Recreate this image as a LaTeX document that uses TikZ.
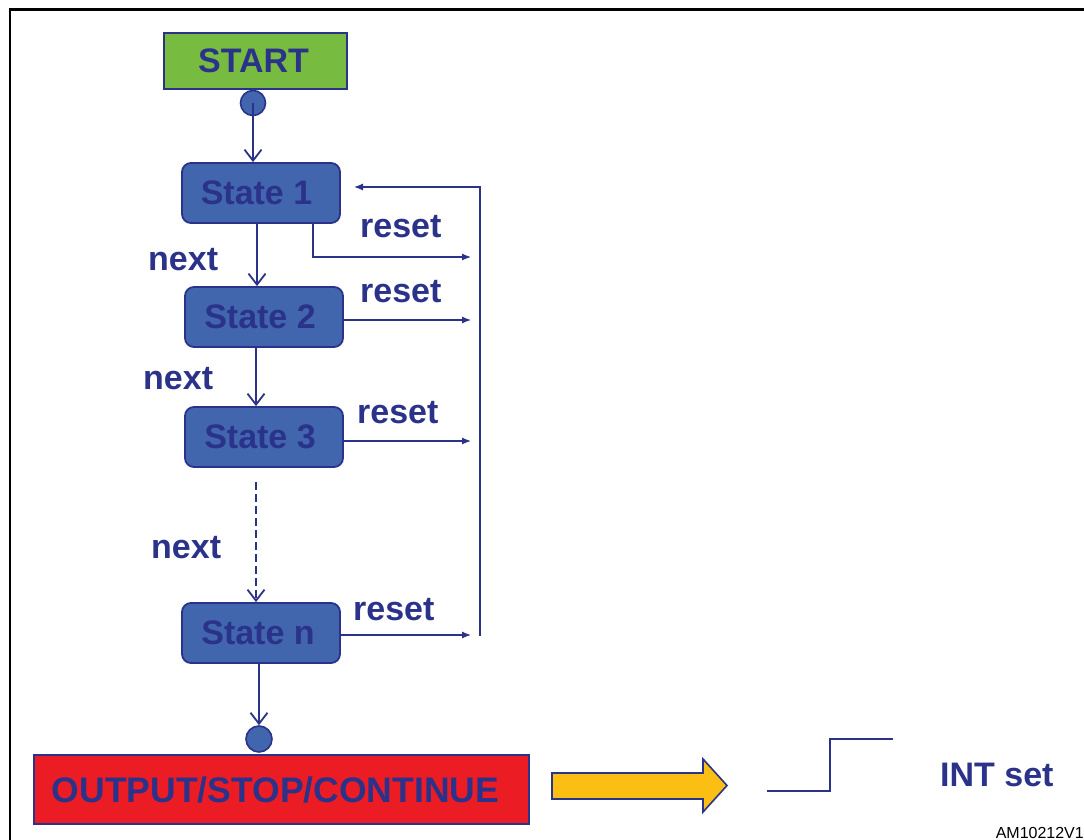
\documentclass[tikz,border=0pt]{standalone}
\usepackage{fontspec}
\setmainfont{Liberation Sans}
\usetikzlibrary{arrows.meta,calc}
\definecolor{dblue}{RGB}{43,50,138}
\definecolor{sblue}{RGB}{65,102,174}
\definecolor{sgreen}{RGB}{119,188,65}
\definecolor{sred}{RGB}{236,28,36}
\definecolor{syellow}{RGB}{251,191,20}
\tikzset{
  big/.style={font=\fontsize{34}{40}\selectfont\bfseries, text=dblue},
  statebox/.style={big, draw=dblue, line width=1.8pt, fill=sblue, rounded corners=9pt,
    minimum width=158pt, minimum height=60pt, inner sep=0pt},
  dotnode/.style={circle, draw=dblue, line width=1.6pt, fill=sblue, inner sep=0pt},
  nextarrow/.style={draw=dblue, line width=2.2pt, -{Straight Barb[length=11pt,width=17pt,line width=1.8pt]}},
  resetline/.style={draw=dblue, line width=1.2pt},
  resetarrow/.style={resetline, -{Latex[length=9pt,width=7pt]}},
  lbl/.style={big, inner sep=0pt, anchor=base west},
}
\begin{document}
\begin{tikzpicture}[x=1pt,y=-1pt]
\useasboundingbox (0,0) rectangle (1084,840);
\fill[white] (0,0) rectangle (1084,840);
% frame
\draw[black, line width=2.6pt] (10,850) -- (10,9.5) -- (1095,9.5);

% nodes
\node[big, draw=dblue, line width=1.8pt, fill=sgreen, minimum width=183pt, minimum height=56pt, inner sep=0pt] (start) at (255.5,61) {START\kern4pt};
\node[dotnode, minimum size=25pt] (c1) at (253,103) {};
\node[statebox] (s1) at (261,193) {State 1\kern9pt};
\node[statebox] (s2) at (264,317) {State 2\kern8pt};
\node[statebox] (s3) at (264,437) {State 3\kern8pt};
\node[statebox] (sn) at (261,633) {State n\kern6pt};
\node[dotnode, minimum size=26pt] (c2) at (259,739) {};
\node[big, font=\fontsize{35.5}{40}\selectfont\bfseries, draw=dblue, line width=1.8pt, fill=sred, minimum width=495pt, minimum height=69pt, inner sep=0pt] (out) at (281.5,789.5) {OUTPUT/STOP/CONTINUE\kern12pt};

% next arrows
\draw[nextarrow] (c1.center) -- (c1.center |- s1.north);
\draw[nextarrow] ($(s1.south)+(-4,0)$) -- ($(s2.north)+(-7,0)$);
\draw[nextarrow] ($(s2.south)+(-8,0)$) -- ($(s3.north)+(-8,0)$);
\coordinate (dstart) at (256,482);
\draw[nextarrow, dash pattern=on 8pt off 4pt] (dstart) -- (dstart |- sn.north);
\draw[nextarrow] ($(sn.south)+(-2,0)$) -- (c2.north);

% next labels
\node[lbl] (n1) at (148,270) {next};
\node[lbl] (n2) at (143,389) {next};
\node[lbl] (n3) at (151,558) {next};

% reset connectors
\coordinate (rtop) at (480,187);
\coordinate (rbot) at (480,636);
\coordinate (rin) at (354,187);
\coordinate (r1) at (471,257);
\coordinate (r2) at (471,320);
\coordinate (r3) at (471,441);
\coordinate (rn) at (471,635);
\draw[resetarrow] (rbot) -- (rtop) -- (rin);
\draw[resetarrow] ($(s1.south)+(52,0)$) |- (r1);
\draw[resetarrow] (s2.east |- r2) -- (r2);
\draw[resetarrow] (s3.east |- r3) -- (r3);
\draw[resetarrow] (sn.east |- rn) -- (rn);

% reset labels
\node[lbl] (l1) at (360,237) {reset};
\node[lbl] (l2) at (360,302) {reset};
\node[lbl] (l3) at (357,423) {reset};
\node[lbl] (l4) at (353,620) {reset};

% yellow arrow
\draw[dblue, line width=1.6pt, fill=syellow, line join=miter]
  (552,773) -- (703,773) -- (703,759) -- (727,785.5) -- (703,812) -- (703,799) -- (552,799) -- cycle;

% step signal
\draw[dblue, line width=1.7pt] (767,791) -| (830,739) -- (893,739);

\node[big, inner sep=0pt, anchor=base west] (int) at (940,786) {INT set};
\node[font=\fontsize{16}{18}\selectfont, inner sep=0pt, anchor=base east] (id) at (1084,838) {AM10212V1};
\end{tikzpicture}
\end{document}
